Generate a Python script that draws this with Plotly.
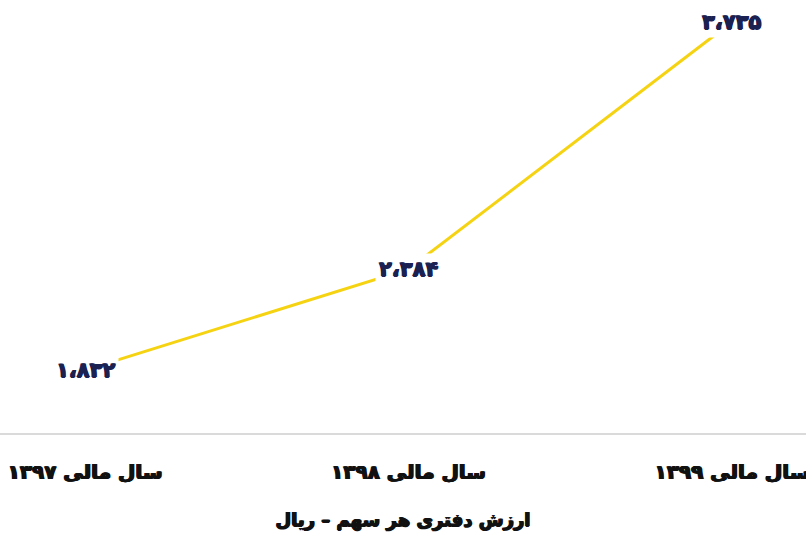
import plotly.graph_objects as go

categories = ["سال مالی ۱۳۹۷", "سال مالی ۱۳۹۸", "سال مالی ۱۳۹۹"]
values = [1832, 2384, 3735]
title_text = "ارزش دفتری هر سهم – ریال"

FA_DIGITS = str.maketrans("0123456789", "۰۱۲۳۴۵۶۷۸۹")


def fa_num(v):
    return f"{v:,}".replace(",", "،").translate(FA_DIGITS)


xs = list(range(len(categories)))
FONT = "DejaVu Sans"
NAVY = "#1B2150"
INK = "#111111"


def heavy(c):
    return f"0.8px 0 0 {c}, -0.8px 0 0 {c}, 0 0.6px 0 {c}"


fig = go.Figure()
fig.add_trace(go.Scatter(
    x=xs, y=values, mode="lines",
    line=dict(color="#F5D312", width=3),
    hoverinfo="skip", showlegend=False,
))

for x, v in zip(xs, values):
    fig.add_annotation(
        x=x, y=v, xref="x", yref="y", text=f"<b>{fa_num(v)}</b>",
        showarrow=False, bgcolor="white", borderpad=3,
        font=dict(family=FONT, size=21, color=NAVY, shadow=heavy(NAVY)),
    )

fig.update_layout(
    width=806, height=554,
    margin=dict(l=0, r=0, t=0, b=121),
    paper_bgcolor="white", plot_bgcolor="white",
    xaxis=dict(
        range=[-0.263, 2.229], tickvals=xs,
        ticktext=[f"<b>{c}</b>" for c in categories],
        showgrid=False, zeroline=False, showline=True,
        linecolor="#DADADA", linewidth=1.5,
        ticks="", ticklabelstandoff=20, automargin=False,
        ticklabeloverflow="allow",
        tickfont=dict(family=FONT, size=20, color=INK, shadow=heavy(INK)),
        title=dict(text=f"<b>{title_text}</b>", standoff=31,
                   font=dict(family=FONT, size=18, color=INK, shadow=heavy(INK))),
    ),
    yaxis=dict(range=[1488, 3855], visible=False),
)

fig.write_html("out.html", config={"displayModeBar": False},
               post_script="document.body.style.margin='0';")
